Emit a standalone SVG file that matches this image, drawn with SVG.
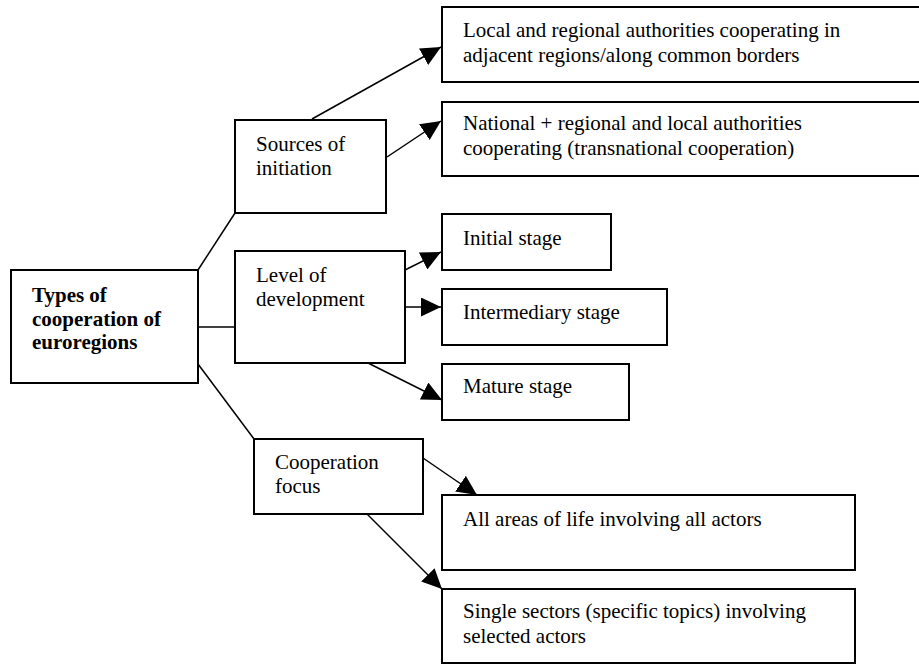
<svg xmlns="http://www.w3.org/2000/svg" width="919" height="664" viewBox="0 0 919 664">
<style>
  .box { fill: #ffffff; stroke: #000000; stroke-width: 2; }
  .conn { fill: none; stroke: #000000; stroke-width: 1.5; }
  text { font-family: "Liberation Serif", "Times New Roman", serif; font-size: 21px; fill: #000000; }
  .bold { font-weight: bold; }
</style>
<defs>
  <marker id="arrow" markerUnits="userSpaceOnUse" markerWidth="20" markerHeight="19" refX="20" refY="9.5" orient="auto">
    <path d="M0,0 L20,9.5 L0,19 z" fill="#000000"/>
  </marker>
</defs>
<rect x="0" y="0" width="919" height="664" fill="#ffffff"/>

<g id="connectors">
  <line class="conn" x1="198" y1="270" x2="235" y2="213"/>
  <line class="conn" x1="198" y1="327" x2="235" y2="327"/>
  <line class="conn" x1="198" y1="364" x2="254" y2="439"/>
  <line class="conn" x1="312" y1="119" x2="441" y2="47" marker-end="url(#arrow)"/>
  <line class="conn" x1="387" y1="157" x2="441" y2="121" marker-end="url(#arrow)"/>
  <line class="conn" x1="405" y1="270" x2="441" y2="252" marker-end="url(#arrow)"/>
  <line class="conn" x1="405" y1="307" x2="441" y2="307" marker-end="url(#arrow)"/>
  <line class="conn" x1="368" y1="363" x2="442" y2="400" marker-end="url(#arrow)"/>
  <line class="conn" x1="423" y1="458" x2="477" y2="495" marker-end="url(#arrow)"/>
  <line class="conn" x1="367" y1="514" x2="442" y2="589" marker-end="url(#arrow)"/>
</g>

<g id="node-types">
  <rect class="box" x="11" y="270" width="187" height="113"/>
  <text class="bold" x="32" y="302">Types of</text>
  <text class="bold" x="32" y="325.5">cooperation of</text>
  <text class="bold" x="32" y="349">euroregions</text>
</g>

<g id="node-sources">
  <rect class="box" x="235" y="120" width="151" height="93"/>
  <text x="256" y="150.5">Sources of</text>
  <text x="256" y="174.5">initiation</text>
</g>

<g id="node-level">
  <rect class="box" x="235" y="251" width="170" height="112"/>
  <text x="256" y="281.5">Level of</text>
  <text x="256" y="305.5">development</text>
</g>

<g id="node-focus">
  <rect class="box" x="254" y="439" width="169" height="75"/>
  <text x="275" y="469">Cooperation</text>
  <text x="275" y="493">focus</text>
</g>

<g id="node-local">
  <rect class="box" x="442" y="7" width="490" height="75"/>
  <text x="463" y="36.5">Local and regional authorities cooperating in</text>
  <text x="463" y="61.5">adjacent regions/along common borders</text>
</g>

<g id="node-national">
  <rect class="box" x="442" y="102" width="490" height="74"/>
  <text x="463" y="130">National + regional and local authorities</text>
  <text x="463" y="155">cooperating (transnational cooperation)</text>
</g>

<g id="node-initial">
  <rect class="box" x="442" y="214" width="169" height="56"/>
  <text x="463" y="245">Initial stage</text>
</g>

<g id="node-intermediary">
  <rect class="box" x="442" y="289" width="225" height="56"/>
  <text x="463" y="319">Intermediary stage</text>
</g>

<g id="node-mature">
  <rect class="box" x="442" y="364" width="187" height="56"/>
  <text x="463" y="393">Mature stage</text>
</g>

<g id="node-allareas">
  <rect class="box" x="442" y="495" width="413" height="75"/>
  <text x="463" y="525.5">All areas of life involving all actors</text>
</g>

<g id="node-single">
  <rect class="box" x="442" y="589" width="413" height="74"/>
  <text x="463" y="618">Single sectors (specific topics) involving</text>
  <text x="463" y="643">selected actors</text>
</g>
</svg>
